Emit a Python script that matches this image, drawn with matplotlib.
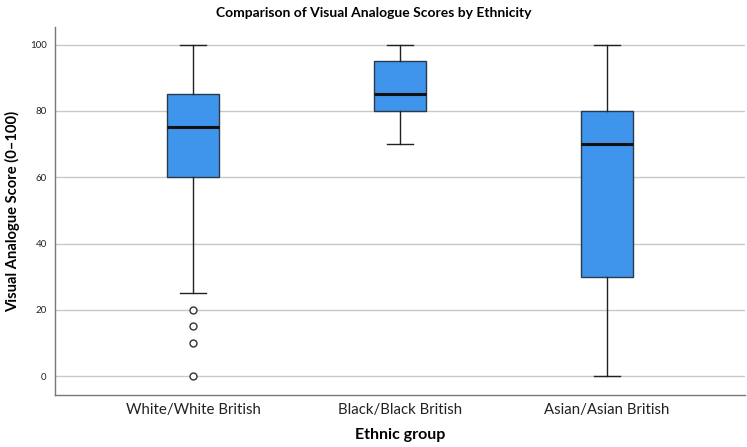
import matplotlib
matplotlib.use('Agg')
import matplotlib.pyplot as plt

# 各组的箱线图统计量
groups = ['White/White British', 'Black/Black British', 'Asian/Asian British']
whislo = [25, 70, 0]
q1 = [60, 80, 30]
med = [75, 85, 70]
q3 = [85, 95, 80]
whishi = [100, 100, 100]
fliers = [[20, 15, 10, 0], [], []]

plt.rcParams['font.family'] = ['Lato', 'DejaVu Sans']

stats = []
for i in range(len(groups)):
    stats.append(dict(label=groups[i], whislo=whislo[i], q1=q1[i], med=med[i],
                      q3=q3[i], whishi=whishi[i], fliers=fliers[i]))

fig = plt.figure(figsize=(7.47, 4.47), dpi=100)
ax = fig.add_axes([0.0736, 0.1163, 0.9234, 0.8233])

ax.bxp(stats, positions=range(len(groups)), widths=0.252, capwidths=0.126,
       patch_artist=True,
       boxprops=dict(facecolor='#3f95ec', edgecolor='#2b3a4a', linewidth=1.0),
       medianprops=dict(color='#111111', linewidth=2.2),
       whiskerprops=dict(color='#222222', linewidth=1.0),
       capprops=dict(color='#222222', linewidth=1.0),
       flierprops=dict(marker='o', markersize=5, markerfacecolor='white',
                       markeredgecolor='#333333', markeredgewidth=1.0))

ax.set_xlim(-0.668, 2.668)
ax.set_ylim(-5.67, 105.3)
ax.set_yticks([0, 20, 40, 60, 80, 100])
ax.yaxis.grid(True, color='#c8c8c8', linewidth=1.0)
ax.set_axisbelow(True)

for s in ['top', 'right']:
    ax.spines[s].set_visible(False)
for s in ['left', 'bottom']:
    ax.spines[s].set_color('#777777')
    ax.spines[s].set_linewidth(1.0)

ax.tick_params(axis='y', length=0, labelsize=7, pad=6, labelcolor='#222222')
ax.tick_params(axis='x', length=0, labelsize=10.8, pad=6, labelcolor='#222222')

ax.set_xlabel('Ethnic group', fontsize=11.5, fontweight='bold', labelpad=8)
ax.set_ylabel('Visual Analogue Score (0\u2013100)', fontsize=10.6, fontweight='bold', labelpad=7)
fig.suptitle('Comparison of Visual Analogue Scores by Ethnicity', fontsize=10,
             fontweight='bold', y=0.985)

fig.savefig('out.png', dpi=100)
